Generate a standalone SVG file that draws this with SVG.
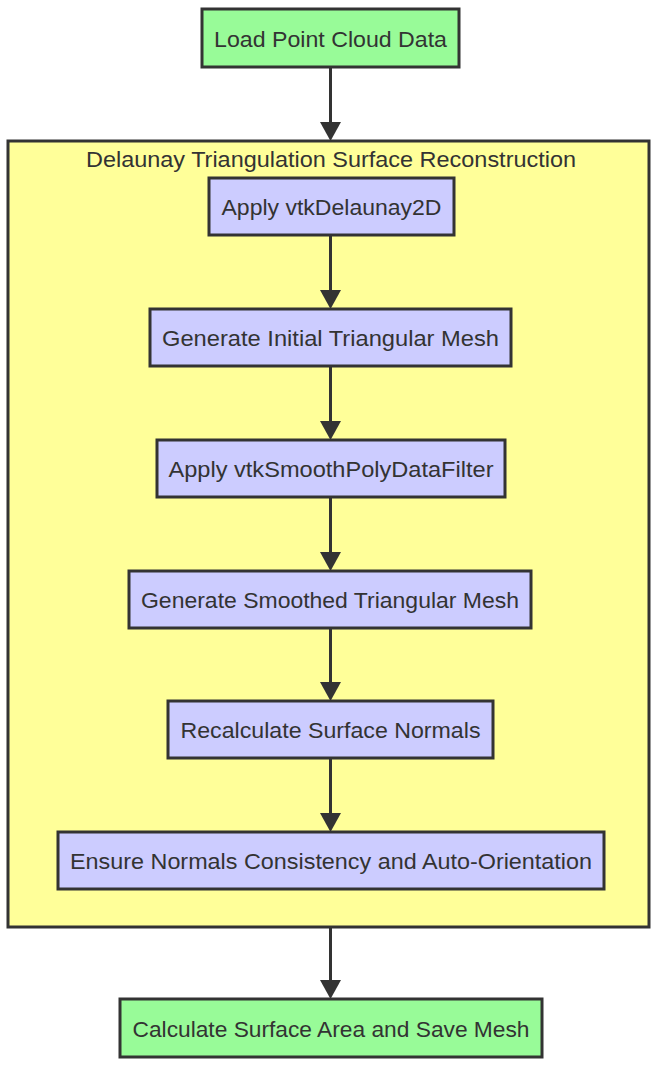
<svg xmlns="http://www.w3.org/2000/svg" width="657" height="1068" viewBox="0 0 657 1068">
<defs>
<style>
.t{font-family:"Liberation Sans",Arial,sans-serif;font-size:22px;fill:#333;text-anchor:middle;dominant-baseline:central}
.g{fill:#98fb98;stroke:#333;stroke-width:3}
.p{fill:#ccccff;stroke:#333;stroke-width:3}
.c{fill:#ffff99;stroke:#333;stroke-width:3}
.e{stroke:#333;stroke-width:3;fill:none}
.h{fill:#333}
</style>
</defs>
<rect width="657" height="1068" fill="#fff"/>
<g id="cluster">
<rect class="c" x="8" y="141" width="641" height="786"/>
<text class="t" x="331" y="159" textLength="490" lengthAdjust="spacingAndGlyphs">Delaunay Triangulation Surface Reconstruction</text>
</g>
<g id="connectors">
<line class="e" x1="330.5" y1="68" x2="330.5" y2="132"/>
<path class="h" d="M320,122 L330.5,141 L341,122 z"/>
<line class="e" x1="330.5" y1="236" x2="330.5" y2="300"/>
<path class="h" d="M320,290 L330.5,309 L341,290 z"/>
<line class="e" x1="330.5" y1="367" x2="330.5" y2="431"/>
<path class="h" d="M320,421 L330.5,440 L341,421 z"/>
<line class="e" x1="330.5" y1="498" x2="330.5" y2="562"/>
<path class="h" d="M320,552 L330.5,571 L341,552 z"/>
<line class="e" x1="330.5" y1="629" x2="330.5" y2="692"/>
<path class="h" d="M320,682 L330.5,701 L341,682 z"/>
<line class="e" x1="330.5" y1="759" x2="330.5" y2="823"/>
<path class="h" d="M320,813 L330.5,832 L341,813 z"/>
<line class="e" x1="330.5" y1="928" x2="330.5" y2="990"/>
<path class="h" d="M320,980 L330.5,999 L341,980 z"/>
</g>
<g id="n1">
<rect class="g" x="202" y="9" width="257" height="58"/>
<text class="t" x="330.5" y="39" textLength="233" lengthAdjust="spacingAndGlyphs">Load Point Cloud Data</text>
</g>
<g id="n2">
<rect class="p" x="209" y="178" width="245" height="57"/>
<text class="t" x="331.5" y="207" textLength="220" lengthAdjust="spacingAndGlyphs">Apply vtkDelaunay2D</text>
</g>
<g id="n3">
<rect class="p" x="150" y="309" width="361" height="57"/>
<text class="t" x="330.5" y="338" textLength="337" lengthAdjust="spacingAndGlyphs">Generate Initial Triangular Mesh</text>
</g>
<g id="n4">
<rect class="p" x="157" y="440" width="348" height="57"/>
<text class="t" x="331" y="469" textLength="325" lengthAdjust="spacingAndGlyphs">Apply vtkSmoothPolyDataFilter</text>
</g>
<g id="n5">
<rect class="p" x="129" y="571" width="402" height="57"/>
<text class="t" x="330" y="600" textLength="378" lengthAdjust="spacingAndGlyphs">Generate Smoothed Triangular Mesh</text>
</g>
<g id="n6">
<rect class="p" x="168" y="701" width="325" height="57"/>
<text class="t" x="330.5" y="730" textLength="300" lengthAdjust="spacingAndGlyphs">Recalculate Surface Normals</text>
</g>
<g id="n7">
<rect class="p" x="58" y="832" width="546" height="57"/>
<text class="t" x="331" y="861" textLength="522" lengthAdjust="spacingAndGlyphs">Ensure Normals Consistency and Auto-Orientation</text>
</g>
<g id="n8">
<rect class="g" x="120" y="999" width="422" height="58"/>
<text class="t" x="331" y="1029" textLength="397" lengthAdjust="spacingAndGlyphs">Calculate Surface Area and Save Mesh</text>
</g>
</svg>
